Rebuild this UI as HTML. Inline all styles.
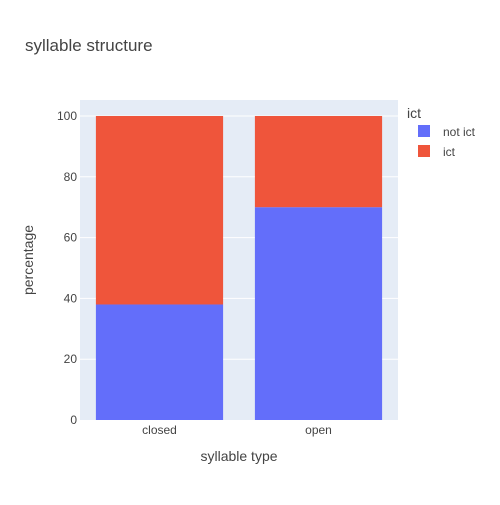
<!DOCTYPE html>
<html><head><meta charset="utf-8"><style>
body{margin:0;background:#fff;font-family:"Liberation Sans",sans-serif;}
svg text{font-family:"Liberation Sans",sans-serif;}
</style></head><body>
<svg id="chart" width="500" height="500" xmlns="http://www.w3.org/2000/svg">
<rect x="0" y="0" width="500" height="500" fill="#fff"/>
<text x="25" y="51" font-size="17" fill="#444">syllable structure</text>
<rect x="80" y="100" width="318" height="320" fill="#e5ecf6"/>
<g id="grid"></g><g id="bars"></g><g id="axes"></g>
<text x="239" y="461" font-size="14" fill="#444" text-anchor="middle">syllable type</text>
<text transform="translate(33,260) rotate(-90)" font-size="14" fill="#444" text-anchor="middle">percentage</text>
<text x="407" y="118" font-size="14" fill="#444">ict</text>
<g><rect x="418" y="125" width="12" height="12" fill="#636efa"/><text x="443" y="136" font-size="12" fill="#444">not ict</text></g>
<g><rect x="418" y="145" width="12" height="12" fill="#ef553b"/><text x="443" y="156" font-size="12" fill="#444">ict</text></g>
</svg>
<script>
const categories=["closed","open"];
const notIct=[38,70];
const ict=[62,30];
const yTicks=[0,20,40,60,80,100];
const X0=80,W=318,Y0=420,H=320,YMAX=105.26;
const y=v=>Y0-v/YMAX*H;
const band=W/categories.length;
const xc=i=>X0+band*(i+0.5);
const NS="http://www.w3.org/2000/svg";
function mk(tag,attrs,parent,text){const e=document.createElementNS(NS,tag);for(const k in attrs)e.setAttribute(k,attrs[k]);if(text!==undefined)e.textContent=text;parent.appendChild(e);return e;}
const grid=document.getElementById('grid'),bars=document.getElementById('bars'),axes=document.getElementById('axes');
yTicks.forEach(t=>{
 if(t>0){const l=mk('line',{x1:X0,x2:X0+W,y1:y(t),y2:y(t),stroke:'#fff','stroke-width':1},grid);
 
 }
 const tx=mk('text',{x:X0-3,y:y(t)+4,'font-size':12,fill:'#444','text-anchor':'end'},axes,String(t));
 
 
});
const bw=band*0.8;
categories.forEach((c,i)=>{
 const b1=mk('rect',{x:xc(i)-bw/2,y:y(notIct[i]),width:bw,height:y(0)-y(notIct[i]),fill:'#636efa'},bars);
 
 
 const b2=mk('rect',{x:xc(i)-bw/2,y:y(notIct[i]+ict[i]),width:bw,height:y(notIct[i])-y(notIct[i]+ict[i]),fill:'#ef553b'},bars);
 
 
 const tx=mk('text',{x:xc(i),y:Y0+14,'font-size':12,fill:'#444','text-anchor':'middle'},axes,c);
 
 
});
</script>
</body></html>
